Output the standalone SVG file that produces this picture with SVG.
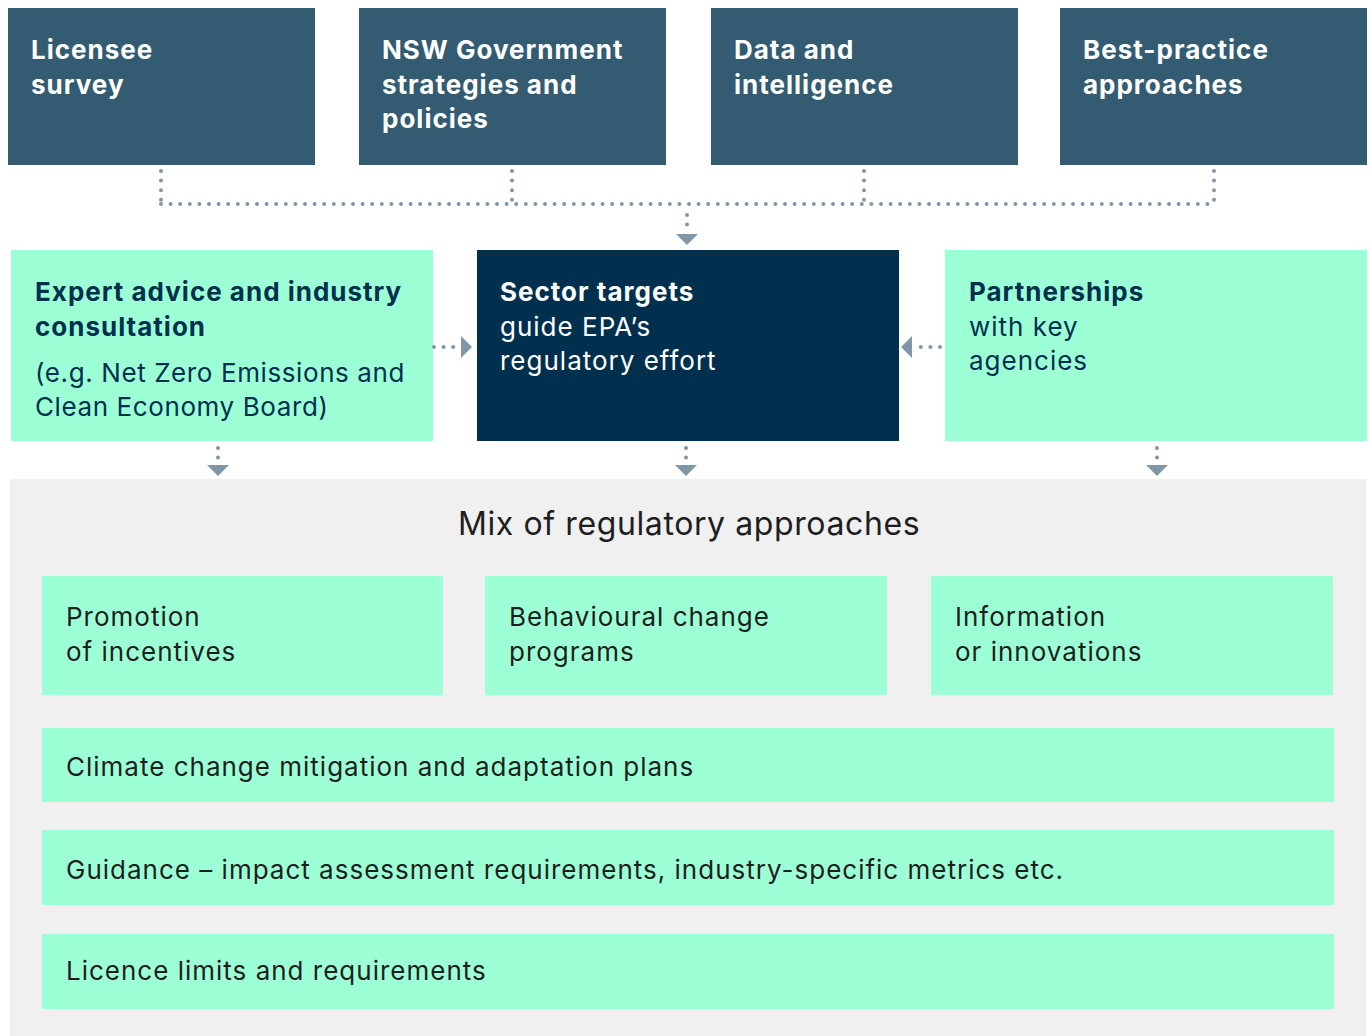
<svg xmlns="http://www.w3.org/2000/svg" width="1372" height="1036" viewBox="0 0 1372 1036">
<defs>
<style>
.top{fill:#335b72}
.mint{fill:#9dffd5}
.navy{fill:#00304e}
.t{font-family:Inter,"Liberation Sans",Arial,sans-serif;font-size:26px;letter-spacing:1px}
.b{font-weight:bold}
.w{fill:#ffffff}
.n{fill:#00304e}
.k{fill:#1e1e1e}
.dot{fill:none;stroke:#7f97a6;stroke-width:4;stroke-linecap:round;stroke-dasharray:0 9.6}
.ah{fill:#7f97a6}
</style>
</defs>
<rect x="0" y="0" width="1372" height="1036" fill="#ffffff"/>
<g id="licensee-survey">
<rect class="top" x="8" y="8" width="307" height="157"/>
<text class="t b w" x="31" y="59">Licensee</text>
<text class="t b w" x="31" y="94">survey</text>
</g>
<g id="nsw-government">
<rect class="top" x="359" y="8" width="307" height="157"/>
<text class="t b w" x="382" y="59">NSW Government</text>
<text class="t b w" x="382" y="94">strategies and</text>
<text class="t b w" x="382" y="128">policies</text>
</g>
<g id="data-intelligence">
<rect class="top" x="711" y="8" width="307" height="157"/>
<text class="t b w" x="734" y="59">Data and</text>
<text class="t b w" x="734" y="94">intelligence</text>
</g>
<g id="best-practice">
<rect class="top" x="1060" y="8" width="307" height="157"/>
<text class="t b w" x="1083" y="59">Best-practice</text>
<text class="t b w" x="1083" y="94">approaches</text>
</g>
<g id="expert-advice">
<rect class="mint" x="11" y="250" width="422" height="191"/>
<text class="t b n" x="35" y="301">Expert advice and industry</text>
<text class="t b n" x="35" y="336">consultation</text>
<text class="t n" x="35" y="382" style="letter-spacing:0.6px">(e.g. Net Zero Emissions and</text>
<text class="t n" x="35" y="416" style="letter-spacing:0.6px">Clean Economy Board)</text>
</g>
<g id="sector-targets">
<rect class="navy" x="477" y="250" width="422" height="191"/>
<text class="t b w" x="500" y="301">Sector targets</text>
<text class="t w" x="500" y="336">guide EPA’s</text>
<text class="t w" x="500" y="370">regulatory effort</text>
</g>
<g id="partnerships">
<rect class="mint" x="945" y="250" width="422" height="191"/>
<text class="t b n" x="969" y="301">Partnerships</text>
<text class="t n" x="969" y="336">with key</text>
<text class="t n" x="969" y="370">agencies</text>
</g>
<g id="mix-of-approaches">
<rect x="10" y="479" width="1356" height="557" fill="#f0f0f0"/>
<text class="t k" x="458" y="535" style="font-size:32px;letter-spacing:0.6px">Mix of regulatory approaches</text>
</g>
<g id="promotion">
<rect class="mint" x="42" y="576" width="401" height="119"/>
<text class="t k" x="66" y="626">Promotion</text>
<text class="t k" x="66" y="661">of incentives</text>
</g>
<g id="behavioural">
<rect class="mint" x="485" y="576" width="402" height="119"/>
<text class="t k" x="509" y="626">Behavioural change</text>
<text class="t k" x="509" y="661">programs</text>
</g>
<g id="information">
<rect class="mint" x="931" y="576" width="402" height="119"/>
<text class="t k" x="955" y="626">Information</text>
<text class="t k" x="955" y="661">or innovations</text>
</g>
<g id="climate-plans">
<rect class="mint" x="42" y="728" width="1292" height="74"/>
<text class="t k" x="66" y="776">Climate change mitigation and adaptation plans</text>
</g>
<g id="guidance">
<rect class="mint" x="42" y="830" width="1292" height="75"/>
<text class="t k" x="66" y="879">Guidance – impact assessment requirements, industry-specific metrics etc.</text>
</g>
<g id="licence-limits">
<rect class="mint" x="42" y="934" width="1292" height="75"/>
<text class="t k" x="66" y="980">Licence limits and requirements</text>
</g>
<g id="connectors">
<path class="dot" d="M161 171 V204"/>
<path class="dot" d="M512 171 V204"/>
<path class="dot" d="M864 171 V204"/>
<path class="dot" d="M1214 171 V204"/>
<path class="dot" d="M161 204 H1214"/>
<path class="dot" d="M687 215 V226"/>
<polygon class="ah" points="676,234 698,234 687,245"/>
<path class="dot" d="M434 347 H455"/>
<polygon class="ah" points="461,336 461,358 472,347"/>
<path class="dot" d="M940 347 H919"/>
<polygon class="ah" points="912,336 912,358 901,347"/>
<path class="dot" d="M218 448 V458"/>
<polygon class="ah" points="207,465 229,465 218,476"/>
<path class="dot" d="M686 448 V458"/>
<polygon class="ah" points="675,465 697,465 686,476"/>
<path class="dot" d="M1157 448 V458"/>
<polygon class="ah" points="1146,465 1168,465 1157,476"/>
</g>
</svg>
